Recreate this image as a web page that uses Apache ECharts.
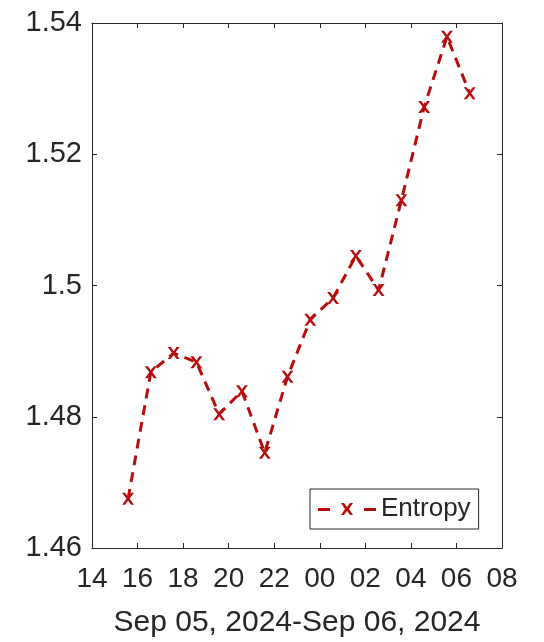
<!DOCTYPE html>
<html>
<head>
<meta charset="utf-8">
<script src="https://cdn.jsdelivr.net/npm/echarts@6/dist/echarts.min.js"></script>
<style>html,body{margin:0;padding:0;background:#fff}#main{width:544px;height:642px}</style>
</head>
<body>
<div id="main"></div>
<script>
// hourly samples, Sep 05 15:35 -> Sep 06 06:35
var times=['2024-09-05 15:35','2024-09-05 16:35','2024-09-05 17:35','2024-09-05 18:35',
  '2024-09-05 19:35','2024-09-05 20:35','2024-09-05 21:35','2024-09-05 22:35',
  '2024-09-05 23:35','2024-09-06 00:35','2024-09-06 01:35','2024-09-06 02:35',
  '2024-09-06 03:35','2024-09-06 04:35','2024-09-06 05:35','2024-09-06 06:35'];
var entropy=[1.4675,1.4868,1.4897,1.4883,1.4804,1.4839,1.4745,1.4861,
  1.4948,1.4981,1.5045,1.4993,1.5130,1.5272,1.5379,1.5293];
var xName='Sep 05, 2024-Sep 06, 2024';
var seriesName='Entropy';

// hours counted from Sep 05 00:00
function toHours(s){
  var d=parseInt(s.slice(8,10),10)-5;
  var h=parseInt(s.slice(11,13),10),m=parseInt(s.slice(14,16),10);
  return d*24+h+m/60;
}
var pts=times.map(function(t,i){return [toHours(t),entropy[i]];});

var txt='#262626';
var font='Liberation Sans';
var red='#b80d0d';
var xMark='path://M0,0L3,0L6,4L9,0L12,0L7.5,6L12,12L9,12L6,8L3,12L0,12L4.5,6Z';
var legendIcon='path://M0,5H12V8H0Z M23,0L26,0L29,4L32,0L35,0L31,6L35,12L32,12L29,8L26,12L23,12L27,6Z M46,5H58V8H46Z';

var myChart=echarts.init(document.getElementById('main'));
var axisBase={
  axisLine:{show:true,lineStyle:{color:txt,width:1}},
  axisTick:{show:true,inside:true,length:5,lineStyle:{color:txt}},
  splitLine:{show:false}
};
var option={
  animation:false,
  backgroundColor:'#fff',
  textStyle:{fontFamily:font},
  grid:{left:92,right:42,top:23,bottom:94,containLabel:false,outerBoundsMode:'none'},
  legend:{
    left:310,top:489,orient:'vertical',
    padding:[7,8],
    itemWidth:58,itemHeight:12,itemGap:0,
    borderColor:txt,borderWidth:1,backgroundColor:'#fff',
    textStyle:{fontSize:26,color:txt,fontFamily:font},
    data:[{name:seriesName,icon:legendIcon}]
  },
  xAxis:[
    Object.assign({
      type:'value',min:14,max:32,interval:2,
      name:xName,nameLocation:'middle',nameGap:60,
      nameTextStyle:{fontSize:30,color:txt,fontFamily:font},
      axisLabel:{fontSize:28,color:txt,margin:17,fontFamily:font,
        formatter:function(v){var h=v%24;return (h<10?'0':'')+h;}}
    },axisBase),
    Object.assign({
      type:'value',min:14,max:32,interval:2,position:'top',
      axisLabel:{show:false}
    },axisBase)
  ],
  yAxis:[
    Object.assign({
      type:'value',min:1.46,max:1.54,interval:0.02,
      axisLabel:{fontSize:29,color:txt,margin:10,fontFamily:font}
    },axisBase),
    Object.assign({
      type:'value',min:1.46,max:1.54,interval:0.02,position:'right',
      axisLabel:{show:false}
    },axisBase)
  ],
  series:[{
    name:seriesName,
    type:'line',
    data:pts,
    symbol:xMark,
    symbolSize:12,
    itemStyle:{color:red},
    lineStyle:{color:red,width:3,type:[10,7]}
  }]
};
myChart.setOption(option);
</script>
</body>
</html>
